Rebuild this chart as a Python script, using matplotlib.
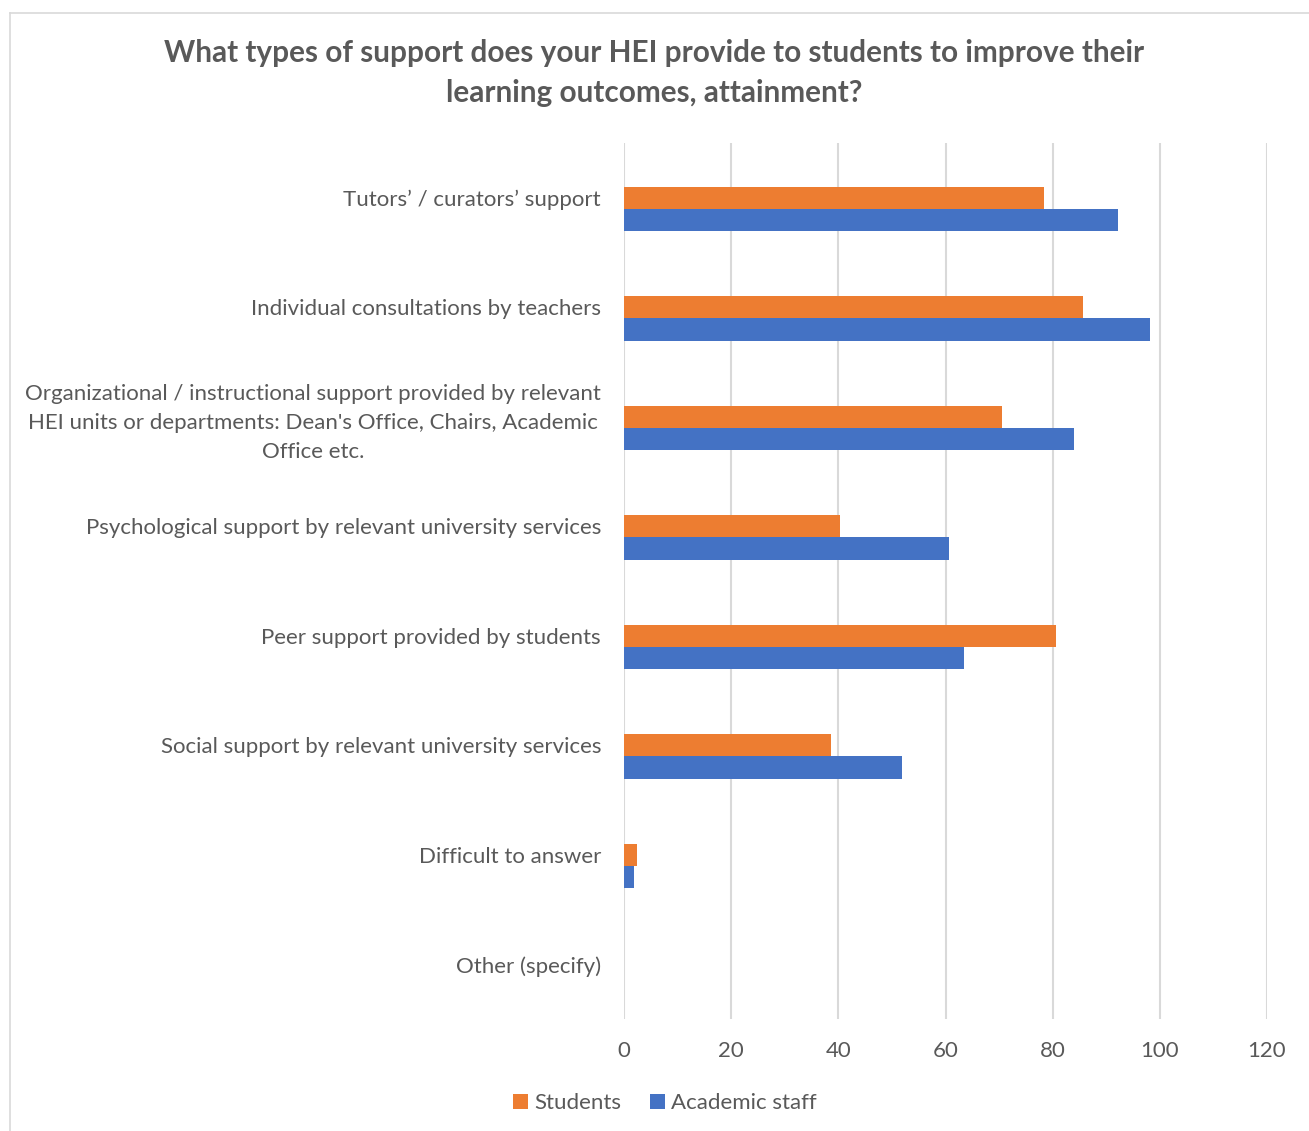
import matplotlib.pyplot as plt
from matplotlib.lines import Line2D
import numpy as np

categories = [
    "Tutors\u2019 / curators\u2019 support",
    "Individual consultations by teachers",
    "Organizational / instructional support provided by relevant\nHEI units or departments: Dean's Office, Chairs, Academic\nOffice etc.",
    "Psychological support by relevant university services",
    "Peer support provided by students",
    "Social support by relevant university services",
    "Difficult to answer",
    "Other (specify)",
]
students = [78.3, 85.7, 70.6, 40.4, 80.7, 38.7, 2.5, 0]
staff = [92.1, 98.2, 84.0, 60.7, 63.4, 51.9, 1.8, 0]
xticks = [0, 20, 40, 60, 80, 100, 120]

plt.rcParams['font.family'] = ['Lato', 'DejaVu Sans']
txt = "#595959"

fig = plt.figure(figsize=(13.09, 11.31), dpi=100)
ax = fig.add_axes([624 / 1309, 1 - 1019 / 1131, 643 / 1309, 876 / 1131])

y = np.arange(len(categories))
h = 0.205
# Excel-style: first series sits on the category, second just below it
ax.barh(y, students, height=h, color="#ED7D31", label="Students", zorder=3)
ax.barh(y + h, staff, height=h, color="#4472C4", label="Academic staff", zorder=3)

ax.set_ylim(len(categories) - 0.5, -0.5)
ax.set_xlim(0, 120)
ax.set_xticks(xticks)
ax.set_yticks(y)
ax.set_yticklabels(categories, multialignment="center", linespacing=1.55)
ax.tick_params(axis="both", length=0, labelsize=16, labelcolor=txt)
ax.tick_params(axis="y", pad=16.5)
ax.tick_params(axis="x", pad=16)
ax.grid(axis="x", color="#D9D9D9", linewidth=1.5, zorder=0)
for s in ax.spines.values():
    s.set_visible(False)

fig.text(0.5, 1 - 73 / 1131,
         "What types of support does your HEI provide to students to improve their\nlearning outcomes, attainment?",
         ha="center", va="center", fontsize=21.4, fontweight="bold", color=txt, linespacing=1.5)

fig.legend(loc="center", bbox_to_anchor=(665 / 1309, 1 - 1103 / 1131), ncol=2, frameon=False,
           fontsize=16, labelcolor=txt, handlelength=0.65, handleheight=0.65, handletextpad=0.3,
           columnspacing=1.3)

# chart area border (left and top edges visible in the crop)
fig.add_artist(Line2D([10 / 1309, 10 / 1309], [0, 1 - 12.5 / 1131], transform=fig.transFigure,
                      color="#D9D9D9", linewidth=1.2))
fig.add_artist(Line2D([10 / 1309, 1], [1 - 12.5 / 1131, 1 - 12.5 / 1131], transform=fig.transFigure,
                      color="#D9D9D9", linewidth=1.2))

fig.savefig("out.png", dpi=100)
